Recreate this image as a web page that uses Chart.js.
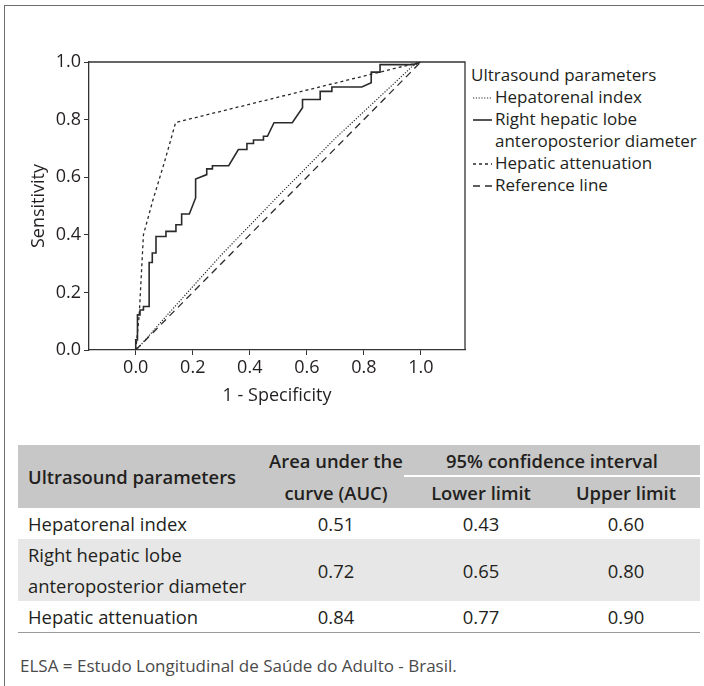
<!DOCTYPE html>
<html>
<head>
<meta charset="utf-8">
<script src="https://cdn.jsdelivr.net/npm/chart.js@4.4.1/dist/chart.umd.min.js"></script>
<style>
  body { margin: 0; background: #fff; font-family: 'Open Sans', sans-serif; color: #231f20; }
  #page { position: relative; width: 704px; height: 686px; overflow: hidden; }
  #frameTop { position: absolute; left: 4px; top: 5px; width: 700px; height: 0; border-top: 1.5px solid #6d6d6d; }
  #frameLeft { position: absolute; left: 4px; top: 5px; width: 0; height: 681px; border-left: 1.5px solid #6d6d6d; }
  #roc { position: absolute; left: 0; top: 0; }
  #legend { position: absolute; left: 471px; top: 64px; font-size: 17px; line-height: 22px; }
  #legend .item { position: relative; padding-left: 24px; white-space: nowrap; }
  #legend svg { position: absolute; left: 2px; top: 7px; }
  #tbl { position: absolute; left: 18px; top: 445px; width: 682px; border-collapse: collapse; table-layout: fixed; font-size: 18.4px; }
  #tbl td, #tbl th { padding: 0; line-height: 31px; }
  #tbl thead th { background: #c7c7c7; font-weight: 600; text-align: center; }
  #tbl thead th.first { text-align: left; padding-left: 10px; }
  #tbl th.ci { border-bottom: 2px solid #fff; line-height: 29px; }
  #tbl tbody td { text-align: center; }
  #tbl tbody td.first { text-align: left; padding-left: 10px; }
  #tbl .last-col { padding-right: 6px; }
  #tbl tbody tr.shade td { background: #e7e7e7; }
  #tbl tbody tr.last td { border-bottom: 1px solid #9a9a9a; }
  #note { position: absolute; left: 20px; top: 654px; font-size: 17px; color: #4a4a4a; white-space: nowrap; }
</style>
</head>
<body>
<div id="page">
  <div id="frameTop"></div>
  <div id="frameLeft"></div>
  <canvas id="roc" width="470" height="410"></canvas>
  <div id="legend"></div>
  <table id="tbl">
    <colgroup><col style="width:250px"><col style="width:136px"><col style="width:154px"><col style="width:142px"></colgroup>
    <thead>
      <tr><th class="first" rowspan="2">Ultrasound parameters</th><th>Area under the</th><th class="ci" colspan="2">95% confidence interval</th></tr>
      <tr><th>curve (AUC)</th><th>Lower limit</th><th class="last-col">Upper limit</th></tr>
    </thead>
    <tbody id="tbody"></tbody>
  </table>
  <div id="note">ELSA = Estudo Longitudinal de Saúde do Adulto - Brasil.</div>
</div>
<script>
// axis ticks
const xTicks = [0, 0.2, 0.4, 0.6, 0.8, 1.0];
const yTicks = [0, 0.2, 0.4, 0.6, 0.8, 1.0];

// Hepatorenal index (fine dotted)
const hrX = [0, 0.02, 0.1, 0.3, 0.5, 0.7, 0.9, 0.97, 1];
const hrY = [0, 0.02, 0.11, 0.33, 0.535, 0.735, 0.92, 0.985, 1];

// Right hepatic lobe anteroposterior diameter (solid, stepped)
const rhX = [0, 0, 0.006, 0.006, 0.015, 0.015, 0.027, 0.027, 0.047, 0.047, 0.058, 0.058, 0.071, 0.071,
  0.106, 0.106, 0.141, 0.141, 0.161, 0.161, 0.188, 0.21, 0.21, 0.249, 0.249, 0.269, 0.269, 0.326, 0.36,
  0.39, 0.39, 0.413, 0.413, 0.448, 0.448, 0.462, 0.485, 0.549, 0.585, 0.585, 0.647, 0.647, 0.688, 0.688,
  0.793, 0.826, 0.826, 0.857, 0.857, 0.973, 1];
const rhY = [0, 0.035, 0.035, 0.122, 0.122, 0.139, 0.139, 0.151, 0.151, 0.304, 0.304, 0.337, 0.337, 0.394,
  0.394, 0.412, 0.412, 0.435, 0.435, 0.472, 0.472, 0.528, 0.594, 0.609, 0.629, 0.629, 0.640, 0.640, 0.696,
  0.696, 0.717, 0.717, 0.729, 0.729, 0.742, 0.742, 0.789, 0.789, 0.841, 0.870, 0.870, 0.898, 0.898, 0.913,
  0.913, 0.928, 0.965, 0.965, 0.991, 0.991, 1];

// Hepatic attenuation (short dashes)
const haX = [0, 0.012, 0.027, 0.06, 0.1, 0.14, 1];
const haY = [0, 0.12, 0.40, 0.52, 0.65, 0.79, 1];

// Reference line
const refX = [0, 1];
const refY = [0, 1];

// table values
const tblNames = [['Hepatorenal index'], ['Right hepatic lobe', 'anteroposterior diameter'], ['Hepatic attenuation']];
const tblAuc = [0.51, 0.72, 0.84];
const tblLower = [0.43, 0.65, 0.77];
const tblUpper = [0.60, 0.80, 0.90];

const ink = '#231f20';
const lineCol = '#2a2a2a';
const axisFont = { family: 'Open Sans', size: 18 };

function pts(xs, ys) {
  return xs.map((x, i) => ({ x: x, y: ys[i] }));
}

const series = [
  { label: 'Hepatorenal index', data: pts(hrX, hrY), dash: [1.2, 1.6], width: 1.2 },
  { label: 'Right hepatic lobe\nanteroposterior diameter', data: pts(rhX, rhY), dash: [], width: 1.6 },
  { label: 'Hepatic attenuation', data: pts(haX, haY), dash: [3, 3], width: 1.3 },
  { label: 'Reference line', data: pts(refX, refY), dash: [7, 5], width: 1.3 }
];

// box round the plot area (top and right sides)
const boxPlugin = {
  id: 'box',
  afterDraw(chart) {
    const a = chart.chartArea, c = chart.ctx;
    c.save();
    c.strokeStyle = '#333';
    c.lineWidth = 1.3;
    c.beginPath();
    c.moveTo(a.left, a.top);
    c.lineTo(a.right, a.top);
    c.lineTo(a.right, a.bottom);
    c.stroke();
    c.restore();
  }
};

let ctx = document.getElementById('roc').getContext('2d');
let rocChart = new Chart(ctx, {
  type: 'scatter',
  data: {
    datasets: series.map(s => ({
      label: s.label,
      data: s.data,
      showLine: true,
      borderColor: lineCol,
      borderWidth: s.width,
      borderDash: s.dash,
      pointRadius: 0,
      fill: false
    }))
  },
  options: {
    responsive: false,
    animation: false,
    layout: { padding: { top: 62, right: 5, left: 0, bottom: 0 } },
    plugins: { legend: { display: false }, tooltip: { enabled: false } },
    scales: {
      x: {
        type: 'linear',
        min: -0.164,
        max: 1.155,
        afterFit: s => { s.height = 60; },
        afterBuildTicks: s => { s.ticks = xTicks.map(v => ({ value: v })); },
        ticks: { callback: v => Number(v).toFixed(1), font: axisFont, color: ink, padding: 2, maxRotation: 0 },
        grid: { drawOnChartArea: false, tickLength: 5, color: '#333' },
        border: { color: '#333', width: 1.3 },
        title: { display: true, text: '1 - Specificity', font: axisFont, color: ink, padding: { top: 0, bottom: 3 } }
      },
      y: {
        type: 'linear',
        min: 0,
        max: 1,
        afterFit: s => { s.width = 89; },
        afterBuildTicks: s => { s.ticks = yTicks.map(v => ({ value: v })); },
        ticks: { callback: v => Number(v).toFixed(1), font: axisFont, color: ink, padding: 3 },
        grid: { drawOnChartArea: false, tickLength: 5, color: '#333' },
        border: { color: '#333', width: 1.3 },
        title: { display: true, text: 'Sensitivity', font: axisFont, color: ink, padding: { top: 28, bottom: 0 } }
      }
    }
  },
  plugins: [boxPlugin]
});

// legend
const legend = document.getElementById('legend');
let html = '<div>Ultrasound parameters</div>';
series.forEach(s => {
  const lines = s.label.split('\n');
  html += '<div class="item"><svg width="20" height="10"><line x1="0" y1="5" x2="19" y2="5" stroke="' + lineCol +
    '" stroke-width="' + s.width + '" stroke-dasharray="' + (s.dash.length ? s.dash.join(',') : 'none') + '"/></svg>' +
    lines.join('<br>') + '</div>';
});
legend.innerHTML = html;

// table body
const tbody = document.getElementById('tbody');
tblNames.forEach((n, i) => {
  const tr = document.createElement('tr');
  if (i === 1) tr.className = 'shade';
  if (i === tblNames.length - 1) tr.className = 'last';
  tr.innerHTML = '<td class="first">' + n.join('<br>') + '</td><td>' + tblAuc[i].toFixed(2) + '</td><td>' +
    tblLower[i].toFixed(2) + '</td><td class="last-col">' + tblUpper[i].toFixed(2) + '</td>';
  tbody.appendChild(tr);
});
</script>
</body>
</html>
